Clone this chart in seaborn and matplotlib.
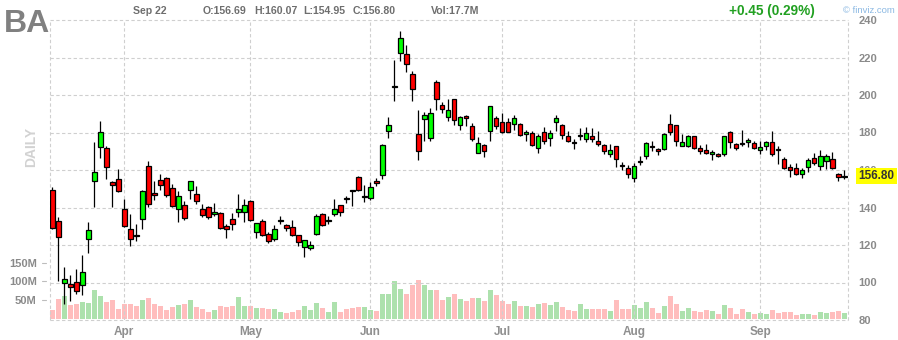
import numpy as np
import pandas as pd
import matplotlib
matplotlib.use("Agg")
import matplotlib.pyplot as plt
import matplotlib.transforms as mtransforms
import seaborn as sns

# ---- daily data, Mar 16 - Sep 22 ----
ticker = "BA"
quote_date = "Sep 22"
month_labels = ["Apr", "May", "Jun", "Jul", "Aug", "Sep"]
month_starts = [12, 33, 53, 75, 97, 118]

opens = [149.2, 132.6, 99.9, 99.2, 100.1, 98.8, 123.4, 154.3, 172.1, 171.6,
         153.6, 155.0, 139.0, 128.3, 125.0, 133.7, 162.0, 147.7, 154.5, 155.6,
         150.2, 139.0, 141.2, 149.2, 147.0, 139.0, 140.1, 136.4, 136.9, 130.0,
         133.7, 137.8, 137.4, 143.3, 127.1, 132.8, 125.7, 123.0, 133.2, 130.9,
         129.5, 125.2, 118.8, 118.4, 126.0, 136.7, 133.2, 136.7, 141.2, 144.8,
         149.3, 156.1, 145.8, 145.2, 154.1, 157.2, 181.0, 204.7, 222.6, 221.9,
         211.0, 179.0, 187.0, 176.9, 206.8, 194.5, 188.1, 197.7, 184.2, 189.0,
         183.3, 169.2, 173.2, 180.6, 187.7, 185.4, 185.4, 184.4, 184.7, 179.0,
         179.6, 171.6, 180.1, 176.9, 185.4, 183.8, 178.1, 174.7, 178.2, 176.4,
         178.1, 175.5, 173.2, 168.4, 172.6, 162.6, 161.2, 155.9, 164.7, 167.3,
         172.7, 171.2, 171.2, 184.4, 183.8, 173.0, 172.8, 178.0, 171.6, 170.5,
         168.4, 168.4, 168.4, 180.1, 173.7, 174.3, 174.8, 174.2, 170.5, 172.6,
         174.8, 171.1, 165.7, 161.4, 160.9, 157.7, 161.4, 166.2, 162.0, 164.6,
         165.7, 157.7, 156.69]
highs = [150.8, 134.8, 108.1, 103.8, 107.0, 114.7, 132.3, 174.8, 186.0, 173.0,
         154.0, 160.5, 144.5, 136.5, 131.2, 149.5, 164.6, 154.1, 157.9, 156.1,
         152.5, 148.6, 143.5, 154.2, 151.3, 141.9, 140.6, 142.4, 137.4, 131.4,
         137.1, 147.4, 144.5, 143.8, 131.7, 133.7, 126.8, 130.6, 135.5, 131.4,
         133.3, 125.5, 122.8, 122.0, 136.5, 137.1, 135.6, 144.5, 141.2, 146.3,
         149.5, 156.6, 151.8, 153.6, 155.6, 173.9, 188.3, 218.7, 234.0, 226.7,
         212.8, 192.0, 190.8, 193.1, 208.0, 196.3, 197.9, 197.9, 188.8, 189.3,
         184.9, 177.4, 173.9, 194.0, 188.6, 190.4, 187.7, 189.3, 185.1, 181.2,
         180.6, 179.0, 182.9, 181.2, 189.3, 184.5, 180.6, 176.4, 182.2, 182.9,
         182.4, 180.6, 173.9, 173.7, 172.8, 164.4, 162.8, 163.6, 167.5, 175.1,
         175.5, 171.9, 179.7, 189.9, 184.2, 179.2, 178.8, 178.1, 173.3, 173.9,
         170.7, 169.2, 178.1, 180.8, 174.2, 181.2, 177.1, 175.3, 175.3, 175.3,
         180.6, 173.0, 166.8, 163.2, 163.6, 161.2, 166.4, 169.2, 170.7, 168.7,
         169.6, 158.4, 160.07]
lows = [128.7, 100.6, 88.5, 90.3, 93.9, 93.5, 115.7, 140.1, 166.4, 155.2,
        140.1, 148.3, 129.6, 119.6, 122.3, 128.7, 140.1, 144.2, 149.5, 145.6,
        140.1, 132.4, 133.5, 144.5, 142.0, 134.9, 134.0, 135.6, 128.5, 123.6,
        127.8, 134.9, 132.1, 132.6, 123.7, 124.6, 121.2, 122.3, 131.2, 127.6,
        125.0, 119.3, 113.8, 117.5, 125.5, 130.0, 131.2, 135.6, 135.6, 142.6,
        141.0, 149.0, 142.8, 144.2, 151.6, 155.4, 177.1, 197.0, 218.3, 212.4,
        197.0, 165.5, 175.6, 175.6, 192.2, 190.6, 186.3, 184.2, 181.5, 183.3,
        175.6, 169.0, 167.1, 175.6, 181.7, 179.7, 180.1, 181.2, 178.3, 175.3,
        172.6, 169.1, 174.0, 172.8, 181.0, 176.7, 174.9, 171.4, 176.2, 174.9,
        175.1, 173.0, 168.7, 166.9, 161.8, 160.2, 155.9, 153.4, 162.7, 165.9,
        170.3, 168.2, 170.8, 178.7, 173.0, 172.6, 172.1, 171.0, 168.5, 168.7,
        165.5, 167.1, 167.6, 171.8, 170.8, 172.6, 172.1, 171.4, 168.5, 170.8,
        167.6, 163.4, 160.4, 156.4, 157.2, 155.9, 158.8, 162.7, 160.2, 160.8,
        160.8, 154.0, 154.95]
closes = [129.2, 124.1, 101.7, 97.8, 95.3, 105.4, 128.0, 158.9, 180.1, 161.8,
          152.2, 149.0, 130.1, 123.0, 124.9, 148.6, 141.9, 146.5, 151.8, 146.8,
          140.6, 146.0, 134.2, 154.0, 143.3, 136.2, 134.8, 137.4, 128.9, 128.3,
          131.0, 139.0, 141.2, 133.2, 131.6, 125.2, 122.0, 128.5, 133.3, 129.1,
          125.2, 121.6, 122.5, 119.8, 135.3, 130.5, 133.3, 139.0, 137.4, 144.7,
          149.2, 149.5, 145.9, 151.1, 152.9, 173.3, 184.0, 204.8, 230.2, 216.4,
          203.0, 170.0, 189.2, 190.6, 197.7, 192.4, 191.8, 186.5, 188.1, 187.6,
          176.4, 174.6, 170.0, 194.0, 183.3, 180.1, 180.4, 187.7, 178.5, 180.1,
          173.2, 178.0, 175.3, 179.6, 187.7, 178.5, 175.3, 174.6, 178.3, 179.6,
          176.4, 173.7, 170.0, 170.7, 165.7, 162.5, 157.7, 162.0, 164.8, 174.2,
          172.6, 170.0, 179.2, 180.1, 175.5, 174.8, 178.0, 171.6, 170.0, 168.9,
          169.6, 167.3, 178.0, 174.8, 171.6, 174.2, 175.8, 171.6, 172.1, 174.8,
          168.4, 171.0, 160.9, 160.2, 157.7, 159.8, 165.2, 163.6, 167.3, 167.3,
          160.9, 156.35, 156.80]
volumes_m = [25, 54, 62, 38, 41, 46, 44, 78, 62, 46,
             52, 28, 41, 41, 36, 52, 57, 41, 36, 25,
             33, 38, 41, 52, 33, 28, 20, 25, 36, 33,
             36, 60, 36, 36, 30, 30, 28, 28, 20, 17,
             20, 25, 36, 25, 44, 30, 20, 46, 20, 28,
             30, 33, 33, 25, 23, 67, 67, 102, 81, 67,
             91, 104, 91, 78, 78, 52, 60, 67, 54, 49,
             57, 57, 49, 78, 65, 49, 41, 49, 36, 36,
             33, 41, 44, 38, 46, 33, 25, 23, 41, 28,
             28, 28, 28, 23, 52, 28, 28, 38, 30, 46,
             30, 17, 36, 62, 41, 23, 30, 23, 20, 25,
             23, 15, 38, 30, 15, 28, 20, 15, 17, 15,
             25, 17, 20, 20, 12, 15, 15, 12, 20, 17,
             20, 23, 17.7]

price_ticks = [80, 100, 120, 140, 160, 180, 200, 220, 240]
vol_ticks = [50, 100, 150]
vol_tick_labels = ["50M", "100M", "150M"]
last_price = closes[-1]
change = 0.45
change_pct = 0.29
volume_text = "17.7M"

# ---- styling ----
sns.set_theme(style="white")
plt.rcParams["font.family"] = ["Liberation Sans", "DejaVu Sans"]

W, H = 898, 340
fig = plt.figure(figsize=(W / 100, H / 100), dpi=100)
fig.patch.set_facecolor("white")
rect = [50 / W, 20 / H, 798 / W, 300 / H]

ax_vol = fig.add_axes(rect, zorder=1)
ax = fig.add_axes(rect, zorder=2)
ax.patch.set_alpha(0)

n = len(closes)
days = np.arange(n)
o = np.array(opens); c = np.array(closes)
hi = np.array(highs); lo = np.array(lows)
up = c >= o
xlim = (-0.38, 132.62)

# volume bars
vol_df = pd.DataFrame({"day": days, "volume": volumes_m,
                       "dir": np.where(up, "up", "down")})
sns.barplot(data=vol_df, x="day", y="volume", hue="dir",
            palette={"up": "#ade1ad", "down": "#ffbdbd"},
            native_scale=True, dodge=False, width=0.83, saturation=1,
            errorbar=None, legend=False, linewidth=0, ax=ax_vol)
ax_vol.set_xlim(*xlim)
ax_vol.set_ylim(-2, 792)
ax_vol.set_xlabel(""); ax_vol.set_ylabel("")
ax_vol.set_xticks([])
ax_vol.set_yticks(vol_ticks, vol_tick_labels)
ax_vol.tick_params(axis="y", length=0, pad=9.5, labelsize=8, labelcolor="#8a8a8a")
for t in ax_vol.get_yticklabels():
    t.set_fontweight("bold")
tick_tr = mtransforms.blended_transform_factory(ax_vol.transAxes, ax_vol.transData)
for v in vol_ticks:
    ax_vol.plot([-8 / 798, -4 / 798], [v, v], color="#bdbdbd", lw=0.8,
                transform=tick_tr, clip_on=False)
for s in ax_vol.spines.values():
    s.set_visible(False)

# grid
grid_kw = dict(color="#cfcfcf", lw=0.8, ls=(0, (3, 2.2)), zorder=0)
for p in price_ticks:
    ax.axhline(p, clip_on=False, **grid_kw)
for m in month_starts:
    ax.axvline(m, **grid_kw)
for xe in xlim:
    ax.axvline(xe, clip_on=False, **grid_kw)

# candles
ax.vlines(days, lo, hi, color="black", lw=0.9, zorder=2)
body = np.maximum(np.abs(c - o), 0.45)
ax.bar(days, body, bottom=np.minimum(o, c) - (body - np.abs(c - o)) / 2,
       width=0.74, color=np.where(up, "#00ff00", "#ff0000"),
       edgecolor="black", linewidth=0.9, zorder=3)

ax.set_xlim(*xlim)
ax.set_ylim(80, 240)
ax.yaxis.tick_right()
ax.set_yticks(price_ticks, [str(p) for p in price_ticks])
ax.tick_params(axis="y", length=0, pad=7.5, labelsize=8, labelcolor="#8a8a8a")
ax.set_xticks(month_starts, month_labels)
ax.tick_params(axis="x", length=0, pad=4, labelsize=8.5, labelcolor="#8f8f8f")
for t in ax.get_yticklabels() + ax.get_xticklabels():
    t.set_fontweight("bold")
for s in ax.spines.values():
    s.set_visible(False)

# last price tag
lbl_tr = mtransforms.blended_transform_factory(ax.transAxes, ax.transData)
ax.text(1 + 10.5 / 798, last_price, f"{last_price:.2f}", transform=lbl_tr,
        ha="left", va="center", fontsize=8.5, fontweight="bold", color="#333333",
        bbox=dict(boxstyle="square,pad=0.18", fc="#ffff00", ec="none"),
        zorder=5, clip_on=False)

# header
def px(x, y):
    return x / W, 1 - y / H

fig.text(*px(4, 32), ticker, fontsize=23, fontweight="bold", color="#808080",
         va="baseline", ha="left")
hdr = dict(fontsize=7.6, fontweight="bold", color="#6e6e6e", va="baseline", ha="left")
fig.text(*px(133, 14), quote_date, **hdr)
fig.text(*px(203, 14), f"O:{opens[-1]:.2f}", **hdr)
fig.text(*px(254, 14), f"H:{highs[-1]:.2f}", **hdr)
fig.text(*px(303, 14), f"L:{lows[-1]:.2f}", **hdr)
fig.text(*px(353, 14), f"C:{closes[-1]:.2f}", **hdr)
fig.text(*px(431, 14), f"Vol:{volume_text}", **hdr)
fig.text(*px(815, 15), f"+{change:.2f} ({change_pct:.2f}%)", fontsize=9.8,
         fontweight="bold", color="#21a021", va="baseline", ha="right")
fig.text(*px(843, 13), "\u00a9 finviz.com", fontsize=6.8, color="#8cb9e3",
         va="baseline", ha="left")
fig.text(*px(31, 147), "DAILY", fontsize=10, fontweight="bold", color="#d2d2d2",
         rotation=90, va="center", ha="center")

fig.savefig("out.png", dpi=100, facecolor="white")
